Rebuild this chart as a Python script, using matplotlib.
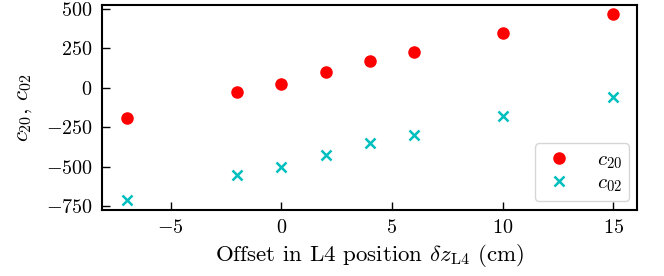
import matplotlib
matplotlib.use("Agg")
import matplotlib.pyplot as plt

plt.rcParams['font.family'] = 'serif'
plt.rcParams['font.serif'] = ['cmr10']
plt.rcParams['mathtext.fontset'] = 'cm'
plt.rcParams['axes.formatter.use_mathtext'] = True
plt.rcParams['axes.unicode_minus'] = True

# L4 offsets (cm)
offsets = [-7, -2, 0, 2, 4, 6, 10, 15]
c20 = [-190, -28, 23, 100, 172, 225, 343, 464]
c02 = [-712, -551, -498, -424, -352, -299, -180, -59]

fs = 14.5
fig, ax = plt.subplots(figsize=(6.64, 2.76), dpi=100)
ax.plot(offsets, c20, 'o', color='red', markersize=8, label=r'$c_{20}$')
ax.plot(offsets, c02, 'x', color='c', markersize=6.5, markeredgewidth=1.8, label=r'$c_{02}$')

ax.set_xticks([-5, 0, 5, 10, 15])
ax.set_yticks([-750, -500, -250, 0, 250, 500])
ax.tick_params(direction='in', labelsize=fs, length=6, width=1, pad=7)
for s in ax.spines.values():
    s.set_linewidth(1.5)

ax.set_xlabel(r'Offset in L4 position $\delta z_{\rm L4}$ (cm)', fontsize=16.5, labelpad=3)
ax.set_ylabel(r'$c_{20}$, $c_{02}$', fontsize=16.5, labelpad=8)
ax.legend(loc='lower right', fontsize=15, handletextpad=1.0, borderpad=0.35,
          labelspacing=0.15, handlelength=1.6, borderaxespad=0.4)

fig.subplots_adjust(left=0.154, right=0.96, top=0.982, bottom=0.24)
fig.savefig('out.png')
